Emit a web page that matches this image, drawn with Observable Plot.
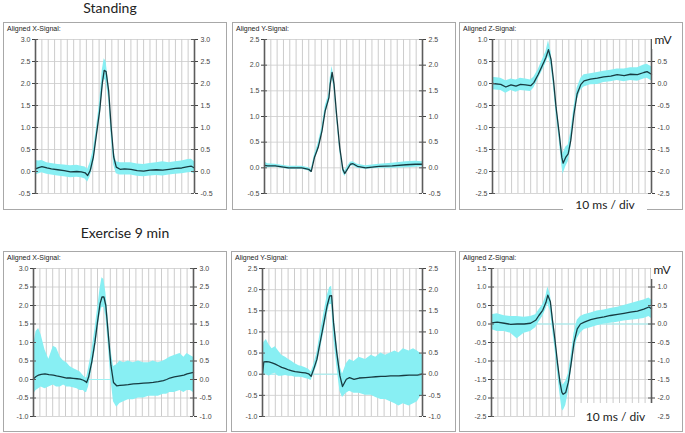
<!DOCTYPE html>
<html><head><meta charset="utf-8">
<script src="https://cdn.jsdelivr.net/npm/d3@7"></script>
<script src="https://cdn.jsdelivr.net/npm/@observablehq/plot@0.6"></script>
<style>
body{margin:0;background:#fff;}
#root{position:relative;width:685px;height:433px;overflow:hidden;background:#fff;font-family:"Liberation Sans",Arial,sans-serif;}
.box{position:absolute;border:1px solid #a8a8a8;box-sizing:border-box;}
.plot{position:absolute;}
.lbl{position:absolute;font-size:7px;color:#222;line-height:8px;white-space:nowrap;}
.title{position:absolute;font-family:Lato,"Open Sans",sans-serif;font-size:14px;color:#222;line-height:16px;white-space:nowrap;transform:translateX(-50%);}
.note{position:absolute;font-family:Lato,"Open Sans",sans-serif;font-size:12px;color:#222;background:#fff;white-space:nowrap;display:flex;align-items:center;justify-content:center;}
</style>
</head><body><div id="root"></div>
<script>
// ---------- data (time in ms, values in mV) ----------
const standX_t  = [0,5,10,18,25,35,45,55,65,72,78,82,86,91,96,101,105,108,111,115,119,123,127,133,140,150,160,170,180,190,200,210,220,230,240,245,250];
const standX_v  = [0.06,0.09,0.11,0.08,0.06,0.04,0.02,-0.01,0.0,-0.01,-0.03,-0.09,0.02,0.33,0.86,1.39,2.0,2.3,2.27,1.84,1.0,0.33,0.1,0.05,0.06,0.05,0.02,0.01,0.03,0.04,0.03,0.05,0.07,0.08,0.11,0.12,0.08];
const standX_hi = [0.25,0.24,0.25,0.2,0.18,0.16,0.15,0.13,0.14,0.12,0.1,0.05,0.2,0.5,1.0,1.6,2.3,2.56,2.5,2.0,1.2,0.5,0.22,0.2,0.2,0.2,0.17,0.16,0.18,0.2,0.22,0.2,0.22,0.24,0.27,0.28,0.22];
const standX_lo = [-0.08,-0.05,-0.03,-0.06,-0.08,-0.1,-0.12,-0.14,-0.13,-0.14,-0.17,-0.24,-0.12,0.15,0.7,1.2,1.8,2.1,2.05,1.65,0.8,0.15,-0.05,-0.08,-0.08,-0.08,-0.11,-0.12,-0.1,-0.09,-0.1,-0.08,-0.06,-0.05,-0.03,-0.02,-0.05];

const standY_t  = [0,5,17,38,59,70,74,79,85,91,96,102,104,107,110,114,119,124,127,131,136,140,147,160,181,202,224,239,250];
const standY_v  = [0.05,0.04,0.04,0.0,0.0,-0.03,-0.07,0.2,0.4,0.72,1.11,1.37,1.63,1.86,1.63,1.05,0.4,-0.03,-0.11,-0.03,0.07,0.08,0.03,0.0,0.03,0.04,0.06,0.07,0.07];
const standY_hi = [0.12,0.08,0.07,0.03,0.03,0.0,-0.03,0.25,0.48,0.8,1.2,1.45,1.75,1.98,1.72,1.12,0.47,0.02,-0.06,0.02,0.11,0.12,0.07,0.04,0.07,0.09,0.12,0.13,0.12];
const standY_lo = [0.0,0.0,0.01,-0.03,-0.03,-0.06,-0.1,0.15,0.33,0.65,1.02,1.28,1.55,1.75,1.55,0.98,0.33,-0.08,-0.17,-0.08,0.03,0.04,-0.01,-0.03,-0.01,-0.01,0.0,0.01,0.02];

const standZ_t  = [0,13,21,29,37,44,52,60,65,72,78,84,88,92,96,100,105,109,111,115,119,123,128,133,139,144,154,165,175,186,196,207,217,228,238,243,250];
const standZ_v  = [0.0,-0.02,-0.08,-0.03,-0.06,-0.02,-0.03,-0.05,0.02,0.21,0.4,0.59,0.77,0.55,0.06,-0.55,-1.15,-1.68,-1.81,-1.68,-1.6,-1.3,-0.7,-0.24,-0.02,0.06,0.1,0.12,0.15,0.17,0.2,0.18,0.21,0.2,0.25,0.27,0.21];
const standZ_hi = [0.14,0.12,0.06,0.1,0.08,0.12,0.1,0.08,0.14,0.32,0.52,0.72,0.97,0.72,0.2,-0.42,-1.0,-1.5,-1.6,-1.45,-1.4,-1.12,-0.55,-0.1,0.12,0.2,0.22,0.25,0.28,0.3,0.33,0.33,0.36,0.36,0.42,0.44,0.38];
const standZ_lo = [-0.14,-0.16,-0.22,-0.16,-0.2,-0.16,-0.17,-0.18,-0.1,0.1,0.28,0.46,0.62,0.4,-0.08,-0.7,-1.3,-1.86,-2.06,-1.9,-1.78,-1.48,-0.85,-0.38,-0.15,-0.08,-0.03,-0.02,0.02,0.04,0.07,0.04,0.07,0.05,0.1,0.12,0.06];

const exerX_t  = [0,4,8,12,18,24,31,36,42,47,52,57,62,68,73,78,81,83,86,91,96,100,104,107,110,113,117,121,125,130,135,141,148,156,164,172,180,187,195,203,208,213,220,229,235,240,245,250];
const exerX_v  = [0.02,0.08,0.12,0.14,0.15,0.13,0.12,0.1,0.08,0.06,0.04,0.04,0.03,0.02,0.01,-0.02,-0.05,-0.08,0.06,0.47,1.01,1.55,2.05,2.23,2.23,2.0,1.19,0.38,-0.08,-0.17,-0.16,-0.15,-0.14,-0.12,-0.11,-0.1,-0.09,-0.08,-0.06,-0.03,0.0,0.04,0.07,0.1,0.12,0.15,0.17,0.19];
const exerX_hi = [0.9,1.3,1.38,1.2,0.8,0.55,0.9,0.85,0.6,0.5,0.45,0.35,0.3,0.25,0.2,0.1,0.05,0.05,0.3,0.75,1.35,1.9,2.45,2.75,2.7,2.35,1.6,0.8,0.35,0.4,0.5,0.45,0.5,0.45,0.5,0.45,0.45,0.5,0.45,0.5,0.55,0.6,0.65,0.7,0.6,0.7,0.65,0.6];
const exerX_lo = [-0.4,-0.3,-0.25,-0.2,-0.25,-0.2,-0.15,-0.2,-0.2,-0.15,-0.2,-0.2,-0.22,-0.25,-0.3,-0.3,-0.35,-0.35,-0.2,0.25,0.75,1.3,1.75,1.95,1.95,1.7,0.9,0.0,-0.6,-0.75,-0.65,-0.6,-0.55,-0.55,-0.5,-0.5,-0.45,-0.45,-0.45,-0.4,-0.4,-0.35,-0.35,-0.3,-0.35,-0.3,-0.3,-0.35];

const exerY_t  = [0,2,6,10,15,20,25,30,36,41,46,51,57,62,67,72,76,80,85,90,96,101,105,108,111,116,121,125,131,136,143,151,161,170,177,185,192,200,207,213,220,229,236,242,246,250];
const exerY_v  = [0.0,0.29,0.3,0.29,0.27,0.24,0.2,0.16,0.13,0.1,0.08,0.06,0.05,0.04,0.03,0.01,-0.05,0.12,0.35,0.75,1.22,1.62,1.85,1.86,1.22,0.51,-0.04,-0.29,-0.12,-0.08,-0.12,-0.09,-0.08,-0.07,-0.06,-0.05,-0.05,-0.04,-0.04,-0.04,-0.03,-0.02,-0.02,-0.02,-0.01,0.01];
const exerY_hi = [0.3,0.75,0.82,0.7,0.6,0.65,0.55,0.45,0.4,0.35,0.3,0.25,0.2,0.18,0.15,0.12,0.05,0.22,0.5,0.95,1.45,1.85,2.05,2.08,1.5,0.75,0.2,0.0,0.25,0.35,0.3,0.4,0.35,0.45,0.4,0.5,0.45,0.5,0.55,0.5,0.6,0.55,0.6,0.55,0.5,0.45];
const exerY_lo = [-0.1,0.0,0.0,-0.05,0.0,0.02,-0.05,-0.05,-0.03,-0.05,-0.05,-0.07,-0.07,-0.08,-0.1,-0.12,-0.15,0.0,0.2,0.55,1.0,1.4,1.65,1.65,0.9,0.2,-0.4,-0.55,-0.45,-0.4,-0.45,-0.45,-0.5,-0.5,-0.55,-0.6,-0.6,-0.65,-0.7,-0.75,-0.7,-0.75,-0.7,-0.65,-0.55,-0.5];

const exerZ_t  = [0,9,20,30,40,51,61,69,74,80,85,88,92,95,99,103,107,110,112,116,120,124,129,134,139,145,155,165,176,186,197,207,217,228,238,246,250];
const exerZ_v  = [0.03,0.05,0.02,-0.01,0.0,0.0,0.02,0.1,0.23,0.37,0.58,0.78,0.6,0.14,-0.4,-1.03,-1.58,-1.85,-1.9,-1.85,-1.58,-1.12,-0.49,-0.13,0.0,0.05,0.12,0.16,0.19,0.23,0.26,0.29,0.32,0.35,0.4,0.46,0.41];
const exerZ_hi = [0.25,0.28,0.22,0.2,0.2,0.18,0.2,0.25,0.38,0.52,0.75,1.0,0.8,0.35,-0.2,-0.85,-1.4,-1.6,-1.65,-1.55,-1.35,-0.9,-0.25,0.1,0.2,0.25,0.3,0.35,0.38,0.42,0.45,0.5,0.55,0.6,0.65,0.7,0.65];
const exerZ_lo = [-0.15,-0.2,-0.2,-0.25,-0.4,-0.25,-0.2,-0.1,0.05,0.2,0.4,0.55,0.35,-0.1,-0.65,-1.3,-1.9,-2.3,-2.35,-2.2,-1.85,-1.35,-0.75,-0.4,-0.25,-0.15,-0.1,-0.05,0.0,0.02,0.05,0.08,0.1,0.12,0.15,0.2,0.15];

// tick labels (left axis; the right axis of the Z panels omits the top one, hidden by "mV")
const ticksStandX = [-0.5,0,0.5,1,1.5,2,2.5,3];
const ticksStandY = [-0.5,0,0.5,1,1.5,2,2.5];
const ticksStandZ = [-2.5,-2,-1.5,-1,-0.5,0,0.5,1];
const ticksStandZRight = [-2.5,-2,-1.5,-1,-0.5,0,0.5];
const ticksExerX  = [-1,-0.5,0,0.5,1,1.5,2,2.5,3];
const ticksExerY  = [-1,-0.5,0,0.5,1,1.5,2,2.5];
const ticksExerZ  = [-2.5,-2,-1.5,-1,-0.5,0,0.5,1,1.5];
const ticksExerZRight = [-2.5,-2,-1.5,-1,-0.5,0,0.5,1];
const timeDomain = [0, 250];
const gridMs = d3.range(10, 250, 10); // 10 ms / div

const sectionTitles = ["Standing", "Exercise 9 min"];
const unitLabel = "mV";
const scaleNote = "10 ms / div";

// ---------- layout ----------
const rows = (t, v, hi, lo) => t.map((d, i) => ({t: d, v: v[i], hi: hi[i], lo: lo[i]}));
const panels = [
  {label:"Aligned X-Signal:", box:[3,22,227,210], plot:[35,39,194,193], ticks:ticksStandX, data:rows(standX_t,standX_v,standX_hi,standX_lo)},
  {label:"Aligned Y-Signal:", box:[232,22,456,210], plot:[264,39,422,193], ticks:ticksStandY, data:rows(standY_t,standY_v,standY_hi,standY_lo)},
  {label:"Aligned Z-Signal:", box:[459,22,683,210], plot:[492,39,651,193], ticks:ticksStandZ, rticks:ticksStandZRight, data:rows(standZ_t,standZ_v,standZ_hi,standZ_lo)},
  {label:"Aligned X-Signal:", box:[3,251,227,432], plot:[33,268,193,416], ticks:ticksExerX, data:rows(exerX_t,exerX_v,exerX_hi,exerX_lo), ex:true},
  {label:"Aligned Y-Signal:", box:[231,251,456,432], plot:[262,268,422,416], ticks:ticksExerY, data:rows(exerY_t,exerY_v,exerY_hi,exerY_lo), ex:true},
  {label:"Aligned Z-Signal:", box:[459,251,683,432], plot:[491,268,651,416], ticks:ticksExerZ, rticks:ticksExerZRight, data:rows(exerZ_t,exerZ_v,exerZ_hi,exerZ_lo), ex:true}
];

const root = document.getElementById("root");
const fmt = d => d.toFixed(1);
const axisColor = "#5c5c5c";

for (const p of panels) {
  const [bx0, by0, bx1, by1] = p.box;
  const [px0, py0, px1, py1] = p.plot;
  const W = bx1 - bx0, H = by1 - by0, pw = px1 - px0;
  const rt = p.rticks || p.ticks;
  const box = document.createElement("div");
  box.className = "box";
  Object.assign(box.style, {left: bx0 + "px", top: by0 + "px", width: W + "px", height: H + "px"});
  root.appendChild(box);

  const marks = [
    Plot.ruleY(p.ticks, {stroke: "#d6d6d6", strokeWidth: 1}),
    Plot.ruleX(gridMs, {stroke: "#cccccc", strokeWidth: 1}),
  ];
  if (p.ex) marks.push(Plot.ruleY([0], {stroke: "#9ff3f5", strokeWidth: 1}));
  marks.push(
    Plot.areaY(p.data, {x: "t", y1: "lo", y2: "hi", fill: "#88eff3"}),
    Plot.line(p.data, {x: "t", y: "v", stroke: "#173b41", strokeWidth: 1.3}),
    Plot.ruleX(timeDomain, {stroke: axisColor, strokeWidth: 1.6}),
    Plot.tickY(p.ticks, {y: d => d, insetRight: pw - 3, stroke: axisColor}),
    Plot.tickY(rt, {y: d => d, insetLeft: pw - 3, stroke: axisColor}),
    Plot.axisY(p.ticks, {anchor: "left", tickSize: 3, tickPadding: 2, tickFormat: fmt, fontSize: 7, color: "#444"}),
    Plot.axisY(rt, {anchor: "right", tickSize: 3, tickPadding: 3, tickFormat: fmt, fontSize: 7, color: "#444"})
  );

  const chart = Plot.plot({
    width: W, height: H,
    marginLeft: px0 - bx0, marginRight: bx1 - px1, marginTop: py0 - by0, marginBottom: by1 - py1,
    x: {domain: timeDomain, axis: null},
    y: {domain: [p.ticks[0], p.ticks[p.ticks.length - 1]], axis: null},
    style: {background: "transparent", fontFamily: "'Liberation Sans', Arial, sans-serif", overflow: "visible"},
    marks
  });
  chart.classList.add("plot");
  Object.assign(chart.style, {left: bx0 + "px", top: by0 + "px"});
  root.appendChild(chart);

  const lbl = document.createElement("div");
  lbl.className = "lbl";
  lbl.textContent = p.label;
  Object.assign(lbl.style, {left: (bx0 + 4) + "px", top: (by0 + 3) + "px"});
  root.appendChild(lbl);
}

// titles
const t1 = document.createElement("div"); t1.className = "title"; t1.textContent = sectionTitles[0];
Object.assign(t1.style, {left: "110px", top: "0px"}); root.appendChild(t1);
const t2 = document.createElement("div"); t2.className = "title"; t2.textContent = sectionTitles[1];
Object.assign(t2.style, {left: "125px", top: "225px"}); root.appendChild(t2);

// unit labels and scale notes (drawn over the Z panels)
function note(text, x, y, w, h, size) {
  const n = document.createElement("div"); n.className = "note"; n.textContent = text;
  Object.assign(n.style, {left: x + "px", top: y + "px", width: w + "px", height: h + "px", fontSize: size + "px"});
  root.appendChild(n);
}
note(unitLabel, 652, 30, 22, 19, 12);
note(unitLabel, 651, 260, 22, 19, 12);
note(scaleNote, 563, 195, 84, 18, 12);
note(scaleNote, 575, 403, 81, 26, 12);
</script>
</body></html>
